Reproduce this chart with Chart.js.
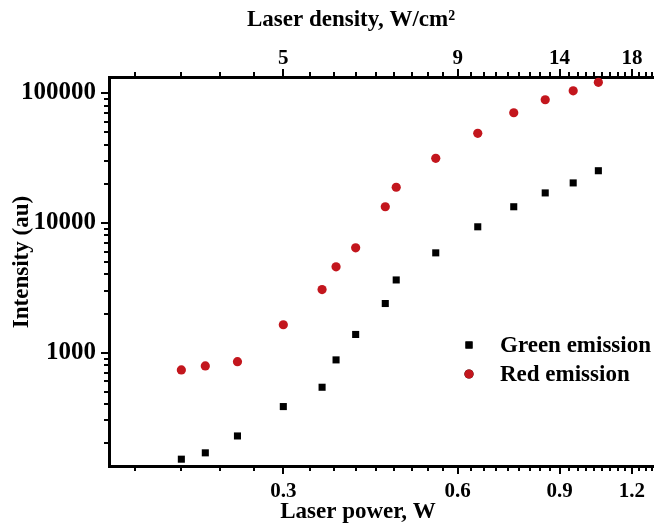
<!DOCTYPE html>
<html>
<head>
<meta charset="utf-8">
<script src="https://cdn.jsdelivr.net/npm/chart.js@4.4.1/dist/chart.umd.min.js"></script>
<style>
	html, body { margin: 0; padding: 0; background: #fff; overflow: hidden; }
	#wrap { width: 654px; height: 523px; }
</style>
</head>
<body>
<div id="wrap"><canvas id="myChart"></canvas></div>
<script>
// data
const power = [0.2, 0.22, 0.25, 0.3, 0.35, 0.37, 0.4, 0.45, 0.47, 0.55, 0.65, 0.75, 0.85, 0.95, 1.05]
const greenEmission = [151, 169, 228, 384, 541, 879, 1380, 2390, 3630, 5870, 9320, 13300, 17000, 20300, 25200]
const redEmission = [735, 790, 852, 1640, 3060, 4580, 6420, 13300, 18800, 31400, 48900, 70500, 88800, 104000, 121000]
const seriesNames = ['Green emission', 'Red emission']
const powerTicks = [0.3, 0.6, 0.9, 1.2]
const densityTicks = ['5', '9', '14', '18']
const intensityTicks = [1000, 10000, 100000]

const serif = '"Liberation Serif", "Times New Roman", serif'
const titleFont = 'bold 23px ' + serif

// tick marks, drawn through the scales
const tickMarks = {
	id: 'tickMarks',
	afterDraw: chart => {
		const ctx = chart.ctx
		const { top, bottom, left } = chart.chartArea
		ctx.save()
		ctx.strokeStyle = '#000'
		ctx.lineWidth = 2
		ctx.beginPath()
		// power ticks every 1/30 W
		for (let i = 5; i <= 39; i++) {
			const v = i / 30
			const len = i % 9 === 0 ? 8 : 5
			const px = Math.round(chart.scales.x.getPixelForValue(v))
			ctx.moveTo(px, bottom)
			ctx.lineTo(px, bottom + len)
			ctx.moveTo(px, top)
			ctx.lineTo(px, top - len)
		}
		// intensity ticks
		const ys = chart.scales.y
		for (let e = 2; e <= 5; e++) {
			for (let m = 1; m <= 9; m++) {
				const v = m * Math.pow(10, e)
				if (v < ys.min || v > ys.max) continue
				const py = Math.round(ys.getPixelForValue(v))
				ctx.moveTo(left, py)
				ctx.lineTo(left - (m === 1 ? 8 : 5), py)
			}
		}
		ctx.stroke()

		// axis titles
		ctx.fillStyle = '#000'
		ctx.font = titleFont
		ctx.textAlign = 'center'
		ctx.textBaseline = 'middle'
		ctx.fillText('Laser power, W', 358, 512)
		ctx.fillText('Laser density, W/cm²', 351, 20)
		ctx.translate(22, 262)
		ctx.rotate(-Math.PI / 2)
		ctx.fillText('Intensity (au)', 0, 0)
		ctx.restore()

		// legend
		ctx.save()
		ctx.font = titleFont
		ctx.textBaseline = 'middle'
		ctx.textAlign = 'left'
		chart.data.datasets.forEach((ds, i) => {
			const y = 345 + i * 29
			Chart.helpers.drawPoint(ctx, {
				pointStyle: ds.pointStyle,
				radius: ds.pointRadius,
				borderWidth: 0
			}, 469, y)
			ctx.fillStyle = ds.backgroundColor
			ctx.fill()
			ctx.fillStyle = '#000'
			ctx.fillText(ds.label, 500, y + 1)
		})
		ctx.restore()
	}
}

const axisBase = {
	type: 'logarithmic',
	min: 0.15,
	max: 1.31,
	grid: { display: false, drawTicks: false, tickLength: 0 },
	border: { display: true, color: '#000', width: 3 },
	afterBuildTicks: scale => {
		scale.ticks = powerTicks.map(v => ({ value: v }))
	}
}

const chart = document.querySelector('#myChart').getContext('2d')

const myChart = new Chart(chart, {
	type: 'scatter',
	data: {
		datasets: [
			{
				label: seriesNames[0],
				data: power.map((p, i) => ({ x: p, y: greenEmission[i] })),
				pointStyle: 'rect',
				pointRadius: 5,
				backgroundColor: '#000000',
				borderWidth: 0
			},
			{
				label: seriesNames[1],
				data: power.map((p, i) => ({ x: p, y: redEmission[i] })),
				pointStyle: 'circle',
				pointRadius: 4.6,
				backgroundColor: '#C3161D',
				borderWidth: 0
			}
		]
	},
	options: {
		responsive: true,
		maintainAspectRatio: false,
		animation: false,
		layout: { padding: 0, autoPadding: false },
		plugins: {
			legend: { display: false },
			tooltip: { enabled: false }
		},
		scales: {
			x: {
				...axisBase,
				position: 'bottom',
				ticks: {
					autoSkip: false,
					maxRotation: 0,
					color: '#000',
					padding: 13,
					font: { family: serif, size: 21, weight: 'bold' },
					callback: (v, i) => String(powerTicks[i])
				},
				afterFit: scale => {
					scale.height = 57
					scale.paddingLeft = 0
					scale.paddingRight = 0
				}
			},
			x2: {
				...axisBase,
				position: 'top',
				ticks: {
					autoSkip: false,
					maxRotation: 0,
					color: '#000',
					padding: 6,
					font: { family: serif, size: 21, weight: 'bold' },
					callback: (v, i) => densityTicks[i]
				},
				afterFit: scale => {
					scale.height = 77
					scale.paddingLeft = 0
					scale.paddingRight = 0
				}
			},
			y: {
				type: 'logarithmic',
				min: 133.8,
				max: 132900,
				grid: { display: false, drawTicks: false, tickLength: 0 },
				border: { display: true, color: '#000', width: 3 },
				afterBuildTicks: scale => {
					scale.ticks = intensityTicks.map(v => ({ value: v }))
				},
				ticks: {
					color: '#000',
					padding: 13,
					font: { family: serif, size: 25, weight: 'bold' },
					callback: v => String(v)
				},
				afterFit: scale => {
					scale.width = 109
					scale.paddingTop = 0
					scale.paddingBottom = 0
				}
			}
		}
	},
	plugins: [tickMarks]
})
</script>
</body>
</html>
